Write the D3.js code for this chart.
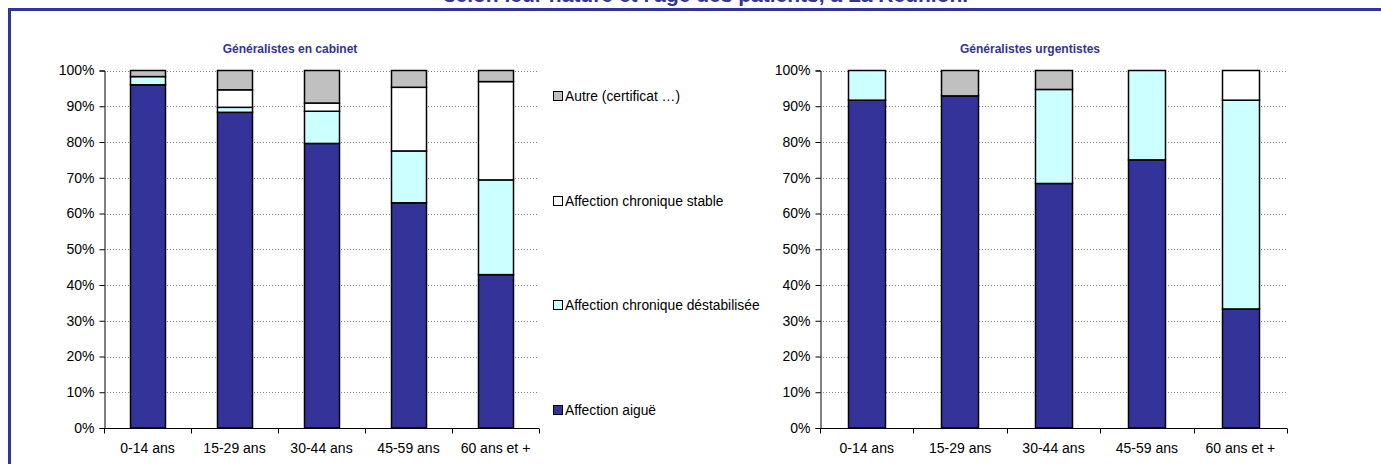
<!DOCTYPE html>
<html lang="fr">
<head>
<meta charset="utf-8">
<script src="https://cdn.jsdelivr.net/npm/d3@7/dist/d3.min.js"></script>
<style>
  html, body { margin: 0; padding: 0; background: #fff; }
  svg { display: block; font-family: "Liberation Sans", Arial, sans-serif; }
</style>
</head>
<body>
<svg id="chart" width="1381" height="464"></svg>
<script>
// Age groups shown on both charts
const categories = ["0-14 ans", "15-29 ans", "30-44 ans", "45-59 ans", "60 ans et +"];

// Series, from bottom to top of each stack
const seriesNames = ["Affection aiguë", "Affection chronique déstabilisée", "Affection chronique stable", "Autre (certificat …)"];
const seriesColors = ["#333399", "#CCFFFF", "#FFFFFF", "#C0C0C0"];

// Généralistes en cabinet (% of consultations)
const cabinetAigue = [96.0, 88.3, 79.6, 63.0, 42.9];
const cabinetDestab = [2.3, 1.4, 9.0, 14.5, 26.5];
const cabinetStable = [0.0, 4.9, 2.3, 17.8, 27.5];
const cabinetAutre = [1.7, 5.4, 9.1, 4.7, 3.1];

// Généralistes urgentistes (% of consultations)
const urgAigue = [91.7, 92.9, 68.4, 75.0, 33.3];
const urgDestab = [8.3, 0.0, 26.3, 25.0, 58.4];
const urgStable = [0.0, 0.0, 0.0, 0.0, 8.3];
const urgAutre = [0.0, 7.1, 5.3, 0.0, 0.0];

const yTicks = [0, 10, 20, 30, 40, 50, 60, 70, 80, 90, 100];

const mainTitle = "selon leur nature et l'âge des patients, à La Réunion.";
const leftTitle = "Généralistes en cabinet";
const rightTitle = "Généralistes urgentistes";

const svg = d3.select("#chart");
const blue = "#333399";
const FONT = "'Liberation Sans', Arial, sans-serif";

// Frame and heading
svg.append("rect").attr("x", 9.5).attr("y", 9.5).attr("width", 1400).attr("height", 500)
  .attr("fill", "none").attr("stroke", blue).attr("stroke-width", 3);
svg.append("text").attr("x", 706).attr("y", 2).attr("text-anchor", "middle")
  .attr("font-size", 21).attr("font-weight", "bold").attr("fill", blue).text(mainTitle);

function buildRows(a, d, s, o) {
  return categories.map((c, i) => ({ cat: c, v: [a[i], d[i], s[i], o[i]] }));
}

function drawChart(opts) {
  const { x0, x1, yTop, yBot, title, titleX, rows } = opts;
  const g = svg.append("g");
  const x = d3.scaleBand().domain(categories).range([x0, x1]).paddingInner(0.6).paddingOuter(0.3);
  const y = d3.scaleLinear().domain([0, 100]).range([yBot, yTop]);

  // dotted gridlines
  g.append("g").selectAll("line").data(yTicks.filter(t => t > 0)).join("line")
    .attr("x1", x0).attr("x2", x1)
    .attr("y1", t => Math.round(y(t)) + 0.5).attr("y2", t => Math.round(y(t)) + 0.5)
    .attr("stroke", "#808080").attr("stroke-width", 1).attr("stroke-dasharray", "1,2");

  // stacked bars
  const stack = d3.stack().keys([0, 1, 2, 3]).value((r, k) => r.v[k]);
  const layers = stack(rows);
  layers.forEach((layer, k) => {
    g.append("g").selectAll("rect").data(layer.filter(p => p[1] - p[0] > 0)).join("rect")
      .attr("x", p => Math.round(x(p.data.cat)) + 0.5)
      .attr("width", Math.round(x.bandwidth()))
      .attr("y", p => y(p[1]))
      .attr("height", p => y(p[0]) - y(p[1]))
      .attr("fill", seriesColors[k])
      .attr("stroke", "#000").attr("stroke-width", 1.5);
  });

  // y axis
  const yAxis = d3.axisLeft(y).tickValues(yTicks).tickFormat(d => d + "%").tickSize(5).tickPadding(5);
  const ya = g.append("g").attr("transform", `translate(${Math.round(x0) + 0.5},0)`).call(yAxis);
  ya.select(".domain").attr("stroke", "#000");
  ya.selectAll(".tick line").attr("stroke", "#000");
  ya.selectAll("text").attr("font-size", 14).attr("fill", "#000").attr("font-family", FONT);

  // x axis with ticks between categories
  const xa = g.append("g").attr("transform", `translate(0,${Math.round(yBot) + 0.5})`);
  xa.append("line").attr("x1", x0).attr("x2", x1).attr("stroke", "#000");
  const bounds = d3.range(categories.length + 1).map(i => x0 + i * x.step());
  xa.selectAll("line.tk").data(bounds).join("line").attr("class", "tk")
    .attr("x1", b => Math.round(b) + 0.5).attr("x2", b => Math.round(b) + 0.5)
    .attr("y1", 0).attr("y2", 5).attr("stroke", "#000");
  xa.selectAll("text").data(categories).join("text")
    .attr("x", c => x(c) + x.bandwidth() / 2).attr("y", 24.5)
    .attr("text-anchor", "middle").attr("font-size", 14).attr("fill", "#000").text(c => c);

  // chart title
  g.append("text").attr("x", titleX).attr("y", 53).attr("text-anchor", "middle")
    .attr("font-size", 12).attr("font-weight", "bold").attr("fill", blue).text(title);
}

drawChart({ x0: 104, x1: 539, yTop: 70.5, yBot: 428, title: leftTitle, titleX: 290,
  rows: buildRows(cabinetAigue, cabinetDestab, cabinetStable, cabinetAutre) });
drawChart({ x0: 820, x1: 1287, yTop: 70.5, yBot: 428, title: rightTitle, titleX: 1030,
  rows: buildRows(urgAigue, urgDestab, urgStable, urgAutre) });

// Legend, top series first
const legendY = [101, 206, 310, 415];
const legend = svg.append("g");
[3, 2, 1, 0].forEach((k, i) => {
  const item = legend.append("g").attr("transform", `translate(553,${legendY[i]})`);
  item.append("rect").attr("x", 0.5).attr("y", -9.5).attr("width", 9).attr("height", 9)
    .attr("fill", seriesColors[k]).attr("stroke", "#000").attr("stroke-width", 1);
  item.append("text").attr("x", 12).attr("y", 0).attr("font-size", 13.8).attr("fill", "#000").text(seriesNames[k]);
});
</script>
</body>
</html>
